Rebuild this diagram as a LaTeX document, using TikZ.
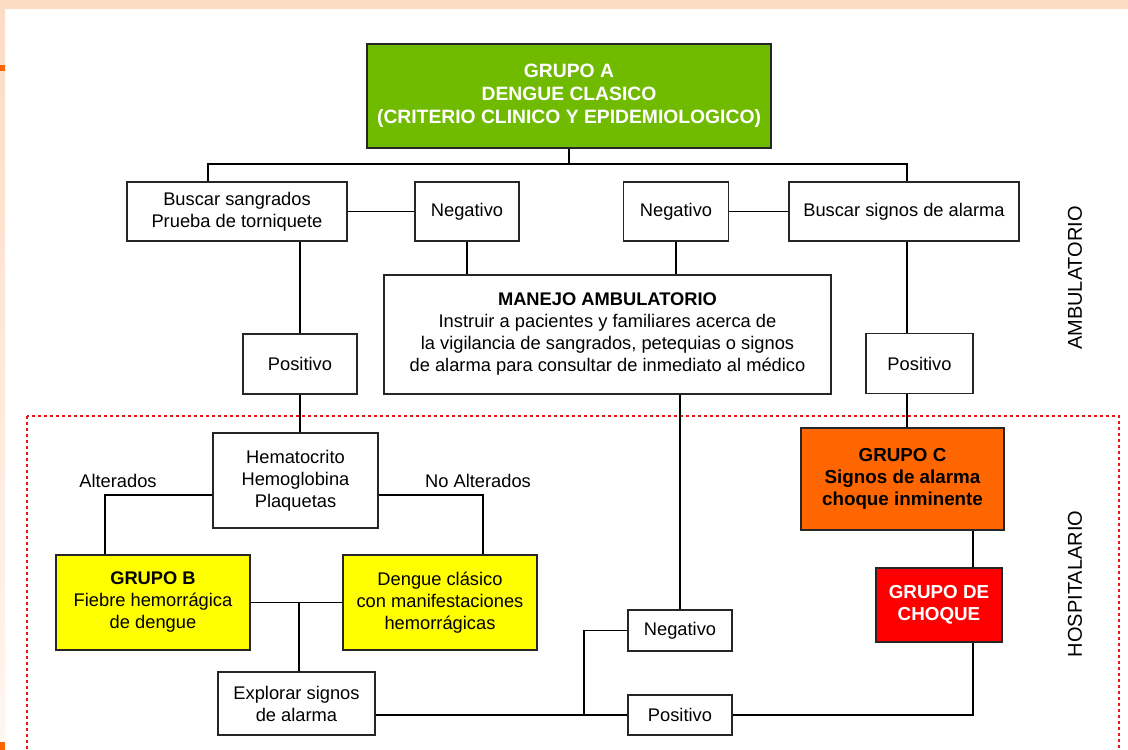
\documentclass[tikz,border=0pt]{standalone}
\usepackage{fontspec}
\setmainfont{Liberation Sans}

\definecolor{verdeA}{RGB}{112,187,0}
\definecolor{naranjaC}{RGB}{255,102,0}
\definecolor{rojoCh}{RGB}{255,0,0}
\definecolor{amarillo}{RGB}{255,255,0}
\definecolor{durazno}{RGB}{253,220,196}
\definecolor{marca}{RGB}{255,102,0}
\definecolor{rojoP}{RGB}{235,20,20}

\tikzset{
  caja/.style={draw=black!85, fill=white, line width=1.8pt, align=center, inner sep=0pt,
    font=\fontsize{18.3}{22}\selectfont},
  enlace/.style={line width=1.8pt},
  etiqueta/.style={font=\fontsize{18.3}{22}\selectfont},
}

\begin{document}
\begin{tikzpicture}[x=1pt, y=-1pt]
  \useasboundingbox (0,0) rectangle (1128,750);

  % Fondo
  \fill[white] (0,0) rectangle (1128,750);
  \fill[durazno] (0,0) rectangle (1128,9);
  \shade[top color=durazno, bottom color=durazno!25] (0,9) rectangle (5,750);
  \fill[marca] (0,65) rectangle (5,71);
  \fill[marca] (0,742) rectangle (5,750);

  % Zona hospitalaria
  \draw[rojoP, line width=1.6pt, dash pattern=on 3pt off 3pt] (27,416) rectangle (1119,780);

  % Grupo A
  \node[caja, fill=verdeA, text=white, font=\bfseries\fontsize{19.3}{23}\selectfont,
    minimum width=404pt, minimum height=104pt] (grupoA) at (569,96)
    {GRUPO A\\DENGUE CLASICO\\(CRITERIO CLINICO Y EPIDEMIOLOGICO)};

  % Primera fila
  \node[caja, minimum width=220pt, minimum height=59pt] (buscar) at (237,211.5)
    {Buscar sangrados\\Prueba de torniquete};
  \node[caja, minimum width=104pt, minimum height=59pt] (neg1) at (467,211.5) {Negativo};
  \node[caja, minimum width=105pt, minimum height=59pt] (neg2) at (676,211.5) {Negativo};
  \node[caja, minimum width=230pt, minimum height=59pt] (buscarsig) at (904,211.5)
    {Buscar signos de alarma};

  % Manejo ambulatorio
  \node[caja, minimum width=447pt, minimum height=119pt] (manejo) at (607.5,334.5)
    {\textbf{MANEJO AMBULATORIO}\\Instruir a pacientes y familiares acerca de\\
     la vigilancia de sangrados, petequias o signos\\
     de alarma para consultar de inmediato al médico};

  % Positivos
  \node[caja, minimum width=114pt, minimum height=60pt] (pos1) at (300,364) {Positivo};
  \node[caja, minimum width=107pt, minimum height=60pt] (pos2) at (919.5,363.5) {Positivo};

  % Laboratorio
  \node[caja, minimum width=165pt, minimum height=95pt] (hemato) at (295.5,480.5)
    {Hematocrito\\Hemoglobina\\Plaquetas};
  \node[etiqueta] (alterados) at (118,481) {Alterados};
  \node[etiqueta] (noalterados) at (478,481) {No Alterados};

  % Grupo B y dengue clasico
  \node[caja, fill=amarillo, minimum width=194pt, minimum height=95pt] (grupoB) at (153,602.5)
    {\textbf{GRUPO B}\\Fiebre hemorrágica\\de dengue};
  \node[caja, fill=amarillo, minimum width=194pt, minimum height=95pt] (clasico) at (440,602.5)
    {Dengue clásico\\con manifestaciones\\hemorrágicas};
  \node[caja, minimum width=157pt, minimum height=63pt] (explorar) at (296.5,703.5)
    {Explorar signos\\de alarma};

  % Resultados abajo
  \node[caja, minimum width=104pt, minimum height=41pt] (negb) at (680,630.5) {Negativo};
  \node[caja, minimum width=104pt, minimum height=40pt] (posb) at (680,715) {Positivo};

  % Grupo C y choque
  \node[caja, fill=naranjaC, font=\bfseries\fontsize{18.8}{22}\selectfont,
    minimum width=203pt, minimum height=102pt] (grupoC) at (902.5,479)
    {GRUPO C\\Signos de alarma\\choque inminente};
  \node[caja, fill=rojoCh, text=white, font=\bfseries\fontsize{18.8}{22}\selectfont,
    minimum width=126pt, minimum height=74pt] (choque) at (939,605)
    {GRUPO DE\\CHOQUE};

  % Zonas
  \node[rotate=90, font=\fontsize{20}{24}\selectfont] (ambulatorio) at (1075,278) {AMBULATORIO};
  \node[rotate=90, font=\fontsize{20}{24}\selectfont] (hospitalario) at (1075,584) {HOSPITALARIO};

  % Conexiones
  \coordinate (izqA) at (208,164);
  \coordinate (derA) at (907,164);
  \draw[enlace] (grupoA.south) -- (grupoA.south |- izqA);
  \draw[enlace] (buscar.north -| izqA) -- (izqA) -- (derA) -- (buscarsig.north -| derA);
  \draw[enlace] (buscar) -- (neg1);
  \draw[enlace] (neg2) -- (buscarsig);
  \draw[enlace] (neg1.south) -- (neg1.south |- manejo.north);
  \draw[enlace] (neg2.south) -- (neg2.south |- manejo.north);
  \draw[enlace] (buscar.south -| pos1) -- (pos1.north);
  \draw[enlace] (buscarsig.south -| derA) -- (pos2.north -| derA);
  \draw[enlace] (pos2.south -| derA) -- (grupoC.north -| derA);
  \draw[enlace] (pos1.south) -- (pos1.south |- hemato.north);

  \coordinate (altI) at (105,495);
  \coordinate (altD) at (483,495);
  \draw[enlace] (hemato.west |- altI) -- (altI) -- (altI |- grupoB.north);
  \draw[enlace] (hemato.east |- altD) -- (altD) -- (altD |- clasico.north);

  \coordinate (medio) at (299,602.5);
  \draw[enlace] (grupoB) -- (clasico);
  \draw[enlace] (medio) -- (medio |- explorar.north);

  \coordinate (bif) at (584,715);
  \draw[enlace] (explorar.east |- posb) -- (posb.west);
  \draw[enlace] (bif) -- (bif |- negb) -- (negb.west);
  \draw[enlace] (negb.north) -- (negb.north |- manejo.south);

  \coordinate (bajada) at (973,719);
  \draw[enlace] (grupoC.south -| bajada) -- (choque.north -| bajada);
  \draw[enlace] (choque.south -| bajada) -- (bajada |- posb) -- (posb.east);
\end{tikzpicture}
\end{document}
